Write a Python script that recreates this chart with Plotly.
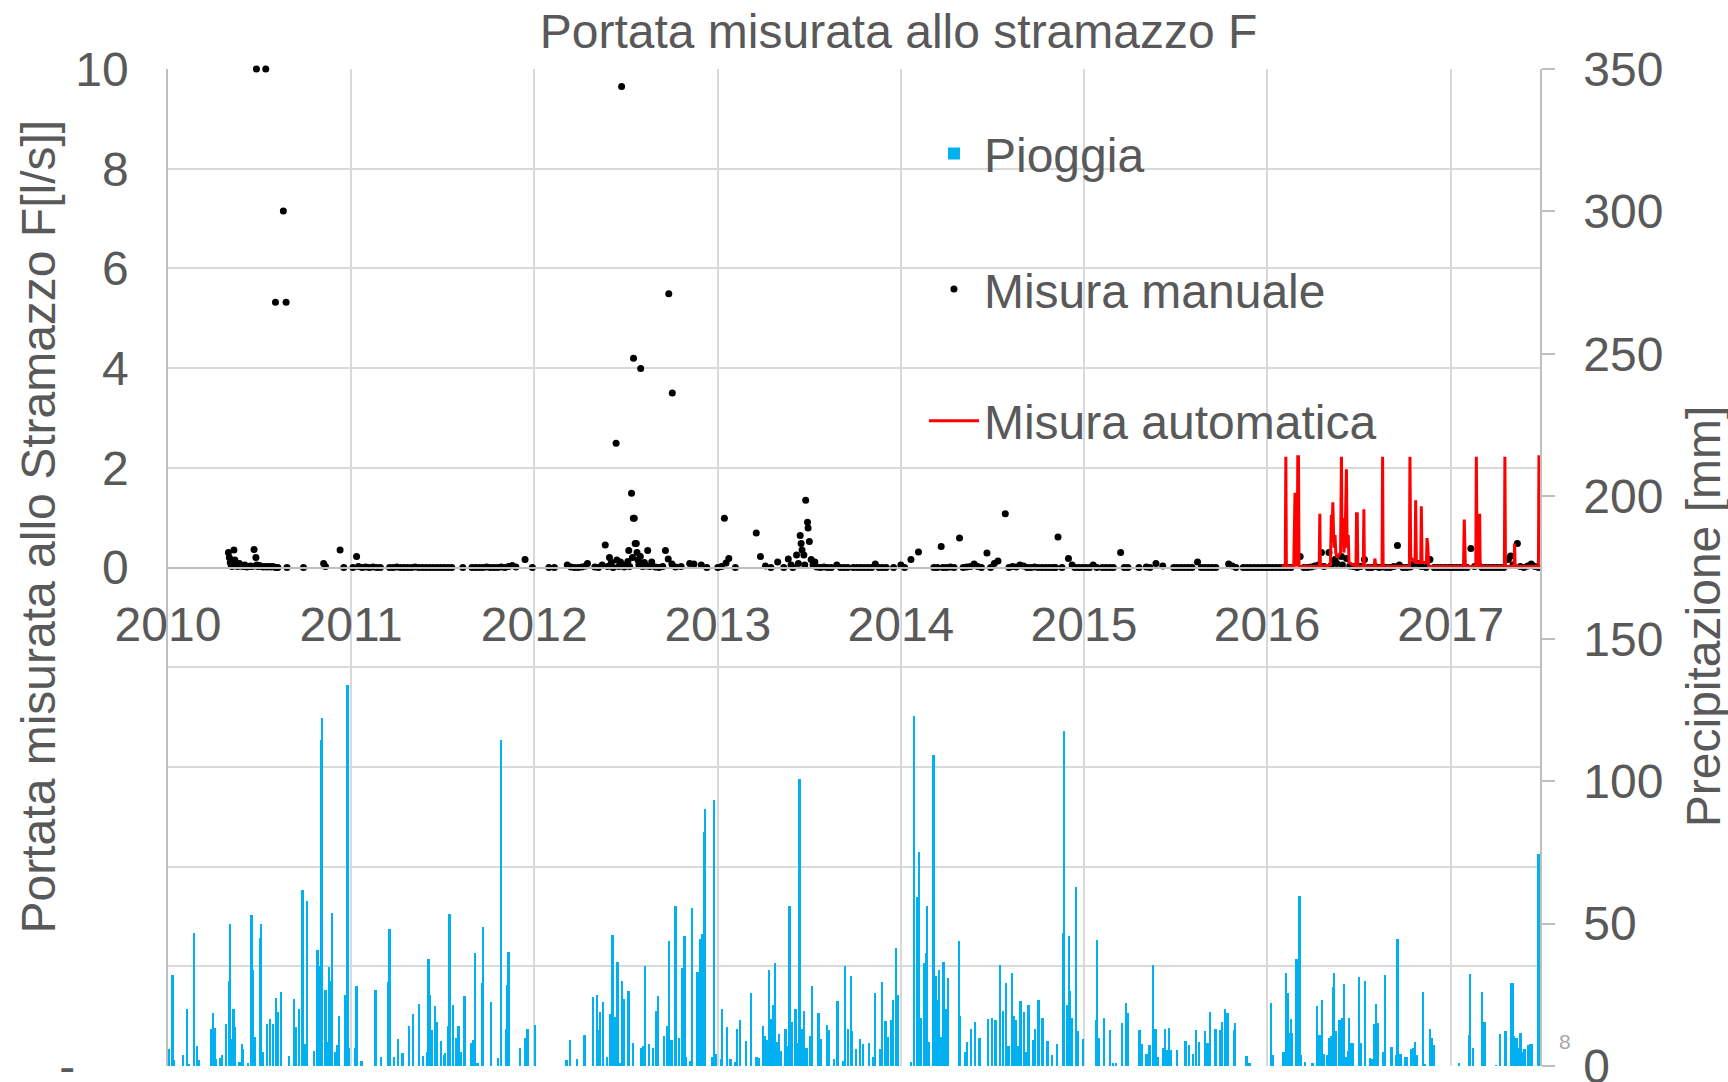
import pandas as pd
import plotly.graph_objects as go

# ---------------- data (dates given as decimal years) -------------
rain_year = [
    2010.006, 2010.025, 2010.031, 2010.082, 2010.102, 2010.115, 2010.142, 2010.159, 2010.167,
    2010.234, 2010.245, 2010.255, 2010.259, 2010.286, 2010.295, 2010.318, 2010.332, 2010.339,
    2010.347, 2010.357, 2010.366, 2010.391, 2010.403, 2010.410, 2010.437, 2010.456, 2010.464,
    2010.472, 2010.502, 2010.508, 2010.516, 2010.541, 2010.558, 2010.575, 2010.589, 2010.602,
    2010.619, 2010.660, 2010.688, 2010.696, 2010.715, 2010.734, 2010.746, 2010.761, 2010.796,
    2010.817, 2010.823, 2010.836, 2010.842, 2010.857, 2010.863, 2010.871, 2010.880, 2010.888,
    2010.897, 2010.913, 2010.926, 2010.934, 2010.970, 2010.980, 2010.988, 2011.020, 2011.030,
    2011.057, 2011.133, 2011.164, 2011.200, 2011.210, 2011.235, 2011.258, 2011.281, 2011.317,
    2011.338, 2011.371, 2011.392, 2011.417, 2011.423, 2011.429, 2011.440, 2011.459, 2011.469,
    2011.490, 2011.507, 2011.513, 2011.530, 2011.538, 2011.555, 2011.576, 2011.586, 2011.601,
    2011.620, 2011.655, 2011.668, 2011.676, 2011.691, 2011.714, 2011.720, 2011.764, 2011.804,
    2011.818, 2011.845, 2011.852, 2011.860, 2011.923, 2011.950, 2011.964, 2012.006, 2012.176,
    2012.194, 2012.232, 2012.274, 2012.320, 2012.341, 2012.347, 2012.359, 2012.374, 2012.395,
    2012.412, 2012.426, 2012.441, 2012.453, 2012.466, 2012.479, 2012.491, 2012.514, 2012.539,
    2012.581, 2012.594, 2012.604, 2012.625, 2012.648, 2012.665, 2012.675, 2012.708, 2012.723,
    2012.736, 2012.748, 2012.769, 2012.790, 2012.805, 2012.819, 2012.828, 2012.848, 2012.861,
    2012.890, 2012.903, 2012.912, 2012.925, 2012.929, 2012.971, 2012.979, 2012.981, 2012.992,
    2013.017, 2013.023, 2013.052, 2013.069, 2013.096, 2013.105, 2013.121, 2013.153, 2013.182,
    2013.211, 2013.222, 2013.247, 2013.257, 2013.266, 2013.280, 2013.293, 2013.303, 2013.312,
    2013.324, 2013.333, 2013.347, 2013.370, 2013.379, 2013.391, 2013.406, 2013.425, 2013.437,
    2013.446, 2013.458, 2013.469, 2013.485, 2013.504, 2013.515, 2013.550, 2013.565, 2013.598,
    2013.609, 2013.634, 2013.653, 2013.682, 2013.695, 2013.713, 2013.728, 2013.734, 2013.753,
    2013.776, 2013.791, 2013.824, 2013.847, 2013.860, 2013.885, 2013.897, 2013.916, 2013.931,
    2013.944, 2013.958, 2013.973, 2013.985, 2014.056, 2014.073, 2014.086, 2014.100, 2014.109,
    2014.128, 2014.136, 2014.144, 2014.155, 2014.178, 2014.180, 2014.190, 2014.199, 2014.207,
    2014.220, 2014.232, 2014.243, 2014.259, 2014.316, 2014.324, 2014.351, 2014.362, 2014.383,
    2014.404, 2014.429, 2014.475, 2014.496, 2014.517, 2014.542, 2014.556, 2014.575, 2014.588,
    2014.607, 2014.619, 2014.630, 2014.640, 2014.653, 2014.672, 2014.684, 2014.697, 2014.720,
    2014.734, 2014.751, 2014.774, 2014.801, 2014.824, 2014.851, 2014.885, 2014.891, 2014.906,
    2014.918, 2014.925, 2014.931, 2014.958, 2014.967, 2014.996, 2015.065, 2015.071, 2015.079,
    2015.111, 2015.140, 2015.157, 2015.176, 2015.209, 2015.230, 2015.238, 2015.303, 2015.314,
    2015.341, 2015.358, 2015.377, 2015.391, 2015.404, 2015.433, 2015.441, 2015.452, 2015.464,
    2015.473, 2015.506, 2015.554, 2015.575, 2015.596, 2015.613, 2015.630, 2015.661, 2015.674,
    2015.688, 2015.718, 2015.743, 2015.755, 2015.772, 2015.784, 2015.818, 2015.824, 2015.887,
    2015.904, 2016.022, 2016.029, 2016.089, 2016.103, 2016.111, 2016.122, 2016.129, 2016.134,
    2016.158, 2016.165, 2016.176, 2016.183, 2016.207, 2016.247, 2016.272, 2016.281, 2016.290,
    2016.299, 2016.310, 2016.325, 2016.339, 2016.347, 2016.358, 2016.365, 2016.377, 2016.390,
    2016.399, 2016.410, 2016.417, 2016.428, 2016.439, 2016.448, 2016.457, 2016.468, 2016.499,
    2016.508, 2016.535, 2016.559, 2016.570, 2016.583, 2016.595, 2016.603, 2016.632, 2016.641,
    2016.677, 2016.702, 2016.710, 2016.721, 2016.726, 2016.753, 2016.762, 2016.786, 2016.795,
    2016.806, 2016.818, 2016.849, 2016.858, 2016.889, 2016.898, 2016.909, 2017.047, 2017.098,
    2017.107, 2017.122, 2017.172, 2017.185, 2017.247, 2017.269, 2017.296, 2017.303, 2017.330,
    2017.338, 2017.345, 2017.359, 2017.372, 2017.381, 2017.390, 2017.403, 2017.423, 2017.436,
    2017.443, 2017.479, 2017.486,
]
rain_mm = [
    6, 32, 2, 4, 20, 0.5, 46.6, 7, 2,
    13, 18.5, 13.5, 2.5, 2.7, 4, 14.6, 30, 49.7,
    9.6, 20, 13.8, 1.4, 7.8, 5.9, 1, 53, 33.6,
    10.3, 44.8, 50, 5, 14.6, 16.5, 14.6, 24, 19,
    26, 3.6, 23.5, 13.8, 20, 61.8, 7.7, 58, 5.3,
    40.6, 35, 114.6, 122, 26.6, 26.6, 8.5, 34.8, 30,
    53.6, 5, 7.3, 17.7, 25, 133.6, 6.4, 6.4, 28,
    1.9, 26.6, 3.3, 29.6, 48, 3.3, 9.5, 4.6, 14.2,
    18.4, 21.9, 3.4, 5, 37.4, 25, 12.6, 21, 15.5,
    8.7, 3.9, 4.7, 14.2, 53.4, 21.4, 10, 14.2, 5,
    24.7, 8, 9, 39.7, 1, 29, 48.7, 22.6, 2.7,
    114.6, 13, 28.6, 40, 6.4, 10, 13, 14.4, 2,
    9, 2.5, 10.9, 24.2, 25, 12.6, 19, 22.6, 3,
    18.4, 46, 17.2, 36.4, 1, 30, 23.5, 26.5, 8,
    6.2, 7, 35.2, 7.6, 6.2, 19.4, 24.7, 10.6, 14.2,
    44, 9, 56, 10, 34.5, 45.8, 3, 1.8, 55.4,
    33, 44.6, 46.2, 82, 90.2, 3, 40.7, 93.4, 4.2,
    2.3, 20, 13.6, 2.3, 1.5, 13, 16, 8.7, 25.5,
    3, 2.7, 14.2, 10.6, 9.1, 33.6, 16.4, 21.4, 36,
    8.4, 11.1, 5.2, 13, 7, 56, 15.6, 20, 8,
    100.6, 13, 19.2, 6.2, 10.6, 28, 18.7, 9.6, 14.4,
    12.5, 2.6, 22.7, 1.8, 35.2, 12.9, 31.7, 12.3, 6,
    9.4, 7.6, 8, 3.3, 25.8, 6, 29.4, 15.7, 10.3,
    16, 23, 41.6, 25, 1.4, 123, 59.5, 75.2, 17,
    36.2, 39.8, 56, 8.5, 109.3, 60.5, 31.7, 23.2, 33.7,
    10.3, 36.5, 20, 30.8, 43.9, 17.6, 5, 8.4, 12.9,
    15.6, 10, 16.5, 17, 16, 35.5, 19.2, 29.3, 7,
    32.5, 17.6, 16.2, 7, 22.7, 19, 4.8, 21.4, 9.1,
    12.9, 23.2, 16.9, 8.8, 4, 7.8, 46.6, 117.6, 21.4,
    45.8, 26.5, 17, 62.8, 12.3, 9.6, 16, 44.4, 10,
    16.7, 12.6, 1.2, 1, 15.2, 22, 18.6, 12.6, 7.7,
    4.2, 7.4, 35.5, 12.9, 3.3, 6.2, 12.9, 5.6, 13.5,
    5.6, 5.6, 8.7, 7.3, 4.2, 12.5, 8.3, 12.3, 8.2,
    18.9, 12.9, 12.6, 15.6, 19.9, 18.6, 12.6, 15.2, 3.5,
    1, 22, 3.9, 4.8, 32.8, 25.8, 11.5, 16.6, 11.7,
    37.5, 37.5, 59.6, 3.9, 1.5, 1.2, 21, 10.9, 10.9,
    23.2, 4.1, 3.9, 9.7, 10.5, 27.9, 32.6, 12.3, 16.2,
    16.2, 17, 28.7, 3, 5.3, 16.9, 8, 8, 31.4,
    8, 30, 2.7, 2.5, 14.9, 21.9, 15, 5, 31.8,
    6.8, 3.9, 44.5, 3.9, 4.1, 3.3, 3, 6, 6.4,
    8.5, 3.9, 25.9, 0.4, 12.9, 9.7, 7.4, 1, 10.9,
    32.4, 6.4, 25.9, 15.5, 0.2, 11.2, 12.2, 12.2, 29,
    29, 10.5, 9.7, 6.2, 11.7, 5, 6.1, 7.4, 7.6,
    7.6, 74.5, 58.6,
]

manual_year = [
    2010.330, 2010.335, 2010.340, 2010.345, 2010.350, 2010.360, 2010.365, 2010.370, 2010.380,
    2010.390, 2010.400, 2010.410, 2010.420, 2010.430, 2010.440, 2010.450, 2010.460, 2010.470,
    2010.480, 2010.483, 2010.485, 2010.490, 2010.500, 2010.510, 2010.520, 2010.530, 2010.534,
    2010.540, 2010.550, 2010.560, 2010.570, 2010.580, 2010.587, 2010.590, 2010.600, 2010.630,
    2010.645, 2010.650, 2010.740, 2010.850, 2010.860, 2010.940, 2010.960, 2011.010, 2011.030,
    2011.040, 2011.060, 2011.080, 2011.100, 2011.120, 2011.140, 2011.160, 2011.210, 2011.230,
    2011.250, 2011.270, 2011.290, 2011.310, 2011.330, 2011.350, 2011.370, 2011.390, 2011.410,
    2011.430, 2011.450, 2011.470, 2011.490, 2011.510, 2011.530, 2011.550, 2011.610, 2011.660,
    2011.680, 2011.700, 2011.720, 2011.740, 2011.760, 2011.780, 2011.800, 2011.820, 2011.840,
    2011.860, 2011.880, 2011.900, 2011.950, 2011.990, 2012.080, 2012.110, 2012.180, 2012.200,
    2012.220, 2012.240, 2012.260, 2012.280, 2012.290, 2012.330, 2012.350, 2012.370, 2012.387,
    2012.400, 2012.410, 2012.420, 2012.430, 2012.446, 2012.450, 2012.460, 2012.470, 2012.476,
    2012.480, 2012.490, 2012.500, 2012.510, 2012.515, 2012.520, 2012.530, 2012.535, 2012.540,
    2012.541, 2012.545, 2012.550, 2012.556, 2012.560, 2012.565, 2012.570, 2012.578, 2012.580,
    2012.585, 2012.590, 2012.600, 2012.610, 2012.618, 2012.630, 2012.640, 2012.660, 2012.680,
    2012.700, 2012.715, 2012.730, 2012.733, 2012.750, 2012.752, 2012.770, 2012.800, 2012.847,
    2012.870, 2012.910, 2012.940, 2013.000, 2013.020, 2013.036, 2013.045, 2013.060, 2013.096,
    2013.210, 2013.233, 2013.260, 2013.290, 2013.327, 2013.360, 2013.385, 2013.400, 2013.410,
    2013.430, 2013.440, 2013.450, 2013.455, 2013.460, 2013.470, 2013.475, 2013.480, 2013.490,
    2013.493, 2013.500, 2013.510, 2013.520, 2013.530, 2013.540, 2013.560, 2013.580, 2013.600,
    2013.620, 2013.650, 2013.670, 2013.690, 2013.710, 2013.740, 2013.760, 2013.780, 2013.800,
    2013.820, 2013.840, 2013.860, 2013.880, 2013.900, 2013.920, 2013.960, 2014.000, 2014.020,
    2014.055, 2014.096, 2014.180, 2014.200, 2014.220, 2014.230, 2014.250, 2014.270, 2014.290,
    2014.320, 2014.340, 2014.360, 2014.380, 2014.400, 2014.420, 2014.440, 2014.470, 2014.490,
    2014.510, 2014.530, 2014.570, 2014.590, 2014.610, 2014.630, 2014.650, 2014.670, 2014.690,
    2014.710, 2014.730, 2014.750, 2014.770, 2014.790, 2014.810, 2014.830, 2014.845, 2014.858,
    2014.880, 2014.915, 2014.935, 2014.950, 2014.970, 2014.990, 2015.010, 2015.030, 2015.050,
    2015.070, 2015.100, 2015.120, 2015.140, 2015.160, 2015.200, 2015.220, 2015.240, 2015.300,
    2015.340, 2015.360, 2015.393, 2015.430, 2015.490, 2015.510, 2015.530, 2015.550, 2015.570,
    2015.590, 2015.620, 2015.640, 2015.660, 2015.680, 2015.700, 2015.720, 2015.790, 2015.810,
    2015.830, 2015.870, 2015.890, 2015.910, 2015.930, 2015.950, 2015.970, 2015.990, 2016.010,
    2016.030, 2016.050, 2016.070, 2016.090, 2016.110, 2016.130, 2016.160, 2016.180, 2016.200,
    2016.220, 2016.240, 2016.260, 2016.280, 2016.296, 2016.310, 2016.337, 2016.350, 2016.370,
    2016.380, 2016.405, 2016.410, 2016.433, 2016.450, 2016.470, 2016.490, 2016.510, 2016.530,
    2016.550, 2016.570, 2016.590, 2016.610, 2016.630, 2016.650, 2016.670, 2016.690, 2016.710,
    2016.720, 2016.740, 2016.760, 2016.780, 2016.800, 2016.820, 2016.840, 2016.866, 2016.887,
    2016.910, 2016.930, 2016.950, 2016.970, 2016.990, 2017.010, 2017.030, 2017.050, 2017.070,
    2017.090, 2017.110, 2017.130, 2017.150, 2017.170, 2017.190, 2017.210, 2017.230, 2017.250,
    2017.270, 2017.290, 2017.315, 2017.327, 2017.340, 2017.364, 2017.380, 2017.400, 2017.420,
    2017.440, 2017.460, 2017.480,
]
manual_ls = [
    0.30, 0.20, 0.10, 0.05, 0.02, 0.35, 0.15, 0.05, 0.02,
    0.08, 0.03, 0.02, 0.05, 0.01, 0.02, 0.03, 0.02, 0.36,
    0.20, 10.0, 0.05, 0.02, 0.04, 0.02, 0.01, 0.02, 10.0,
    0.01, 0.02, 0.01, 0.02, 0.01, 5.32, 0.00, 0.00, 7.15,
    5.32, 0.00, 0.00, 0.08, 0.02, 0.35, 0.00, 0.00, 0.22,
    0.02, 0.00, 0.01, 0.00, 0.01, 0.00, 0.00, 0.00, 0.00,
    0.01, 0.00, 0.00, 0.00, 0.00, 0.01, 0.00, 0.00, 0.00,
    0.00, 0.00, 0.00, 0.00, 0.00, 0.00, 0.00, 0.00, 0.00,
    0.00, 0.00, 0.00, 0.01, 0.00, 0.00, 0.00, 0.01, 0.00,
    0.02, 0.04, 0.01, 0.16, 0.00, 0.00, 0.00, 0.05, 0.01,
    0.00, 0.00, 0.01, 0.03, 0.08, 0.01, 0.00, 0.05, 0.45,
    0.02, 0.20, 0.10, 0.00, 2.49, 0.15, 0.02, 0.11, 9.65,
    0.04, 0.01, 0.05, 0.12, 0.34, 0.02, 1.49, 0.20, 0.99,
    4.20, 0.99, 0.48, 0.48, 0.30, 0.15, 0.05, 0.22, 3.99,
    0.08, 0.02, 0.10, 0.03, 0.34, 0.02, 0.11, 0.01, 0.00,
    0.02, 0.34, 0.17, 5.49, 0.07, 3.50, 0.01, 0.02, 0.08,
    0.07, 0.05, 0.00, 0.00, 0.02, 0.99, 0.09, 0.18, 0.00,
    0.69, 0.22, 0.03, 0.00, 0.11, 0.00, 0.17, 0.05, 0.00,
    0.25, 0.08, 0.64, 0.48, 0.35, 0.25, 0.05, 1.35, 0.91,
    0.79, 0.52, 0.16, 0.05, 0.11, 0.01, 0.00, 0.01, 0.00,
    0.00, 0.05, 0.00, 0.00, 0.00, 0.00, 0.00, 0.00, 0.00,
    0.00, 0.00, 0.07, 0.00, 0.00, 0.00, 0.00, 0.05, 0.00,
    0.16, 0.31, 0.00, 0.00, 0.42, 0.00, 0.00, 0.01, 0.00,
    0.59, 0.00, 0.01, 0.02, 0.07, 0.02, 0.00, 0.29, 0.00,
    0.08, 0.13, 1.08, 0.00, 0.02, 0.01, 0.05, 0.03, 0.00,
    0.00, 0.01, 0.00, 0.00, 0.00, 0.00, 0.00, 0.00, 0.61,
    0.00, 0.18, 0.05, 0.00, 0.00, 0.00, 0.00, 0.00, 0.05,
    0.00, 0.00, 0.00, 0.00, 0.00, 0.30, 0.00, 0.00, 0.00,
    0.01, 0.00, 0.08, 0.03, 0.00, 0.00, 0.00, 0.00, 0.00,
    0.00, 0.11, 0.00, 0.00, 0.00, 0.00, 0.00, 0.07, 0.03,
    0.00, 0.00, 0.00, 0.00, 0.00, 0.00, 0.00, 0.00, 0.00,
    0.00, 0.00, 0.00, 0.00, 0.00, 0.00, 0.28, 0.22, 0.00,
    0.00, 0.01, 0.03, 0.05, 0.30, 0.02, 0.30, 0.05, 0.16,
    0.08, 0.22, 0.05, 0.18, 0.03, 0.02, 0.00, 0.02, 0.16,
    0.00, 0.00, 0.02, 0.00, 0.01, 0.00, 0.00, 0.02, 0.44,
    0.05, 0.00, 0.00, 0.01, 0.08, 0.08, 0.02, 0.00, 0.16,
    0.00, 0.00, 0.00, 0.00, 0.00, 0.00, 0.00, 0.00, 0.00,
    0.00, 0.38, 0.02, 0.07, 0.00, 0.00, 0.00, 0.00, 0.00,
    0.00, 0.00, 0.16, 0.23, 0.05, 0.48, 0.02, 0.00, 0.03,
    0.07, 0.02, 0.00,
]

auto_year = [
    2016.080, 2016.099, 2016.102, 2016.105, 2016.145, 2016.148, 2016.152, 2016.155, 2016.164,
    2016.167, 2016.171, 2016.174, 2016.284, 2016.287, 2016.290, 2016.345, 2016.350, 2016.353,
    2016.358, 2016.362, 2016.366, 2016.370, 2016.374, 2016.380, 2016.400, 2016.405, 2016.408,
    2016.414, 2016.418, 2016.425, 2016.432, 2016.436, 2016.442, 2016.446, 2016.484, 2016.487,
    2016.491, 2016.494, 2016.524, 2016.527, 2016.530, 2016.584, 2016.587, 2016.592, 2016.626,
    2016.629, 2016.632, 2016.775, 2016.778, 2016.782, 2016.806, 2016.809, 2016.813, 2016.837,
    2016.840, 2016.844, 2016.868, 2016.871, 2016.876, 2016.880, 2017.070, 2017.074, 2017.078,
    2017.080, 2017.137, 2017.140, 2017.144, 2017.155, 2017.158, 2017.161, 2017.293, 2017.296,
    2017.299, 2017.346, 2017.349, 2017.352, 2017.479, 2017.482, 2017.487,
]
auto_ls = [
    0.02, 0.02, 2.22, 0.02, 0.02, 1.50, 1.50, 0.05, 0.05,
    2.22, 2.22, 0.02, 0.02, 1.08, 0.02, 0.05, 1.06, 0.50,
    1.31, 0.69, 0.40, 0.65, 0.30, 0.20, 0.30, 2.22, 0.50,
    0.99, 0.30, 0.60, 1.97, 0.40, 0.65, 0.10, 0.02, 1.08,
    1.08, 0.02, 0.02, 1.17, 0.02, 0.02, 0.18, 0.02, 0.02,
    2.22, 0.02, 0.02, 2.22, 0.20, 0.10, 1.35, 0.10, 0.10,
    1.23, 0.10, 0.10, 0.59, 0.40, 0.02, 0.02, 0.96, 0.20,
    0.02, 0.02, 2.22, 0.02, 0.02, 1.08, 0.02, 0.02, 2.22,
    0.02, 0.02, 0.48, 0.02, 0.02, 2.22, 2.22,
]

left_tickvals = [-10, -8, -6, -4, -2, 0, 2, 4, 6, 8, 10]
left_ticktext = ["-\u00a0\u00a0\u00a0\u00a0", "", "", "", "", "0", "2", "4", "6", "8", "10"]
right_tickvals = [0, 50, 100, 150, 200, 250, 300, 350]


def to_date(v):
    y = int(v)
    start = pd.Timestamp(year=y, month=1, day=1)
    end = pd.Timestamp(year=y + 1, month=1, day=1)
    return start + (end - start) * (v - y)


rain_dates = [to_date(v) for v in rain_year]
manual_dates = [to_date(v) for v in manual_year]
auto_dates = [to_date(v) for v in auto_year]

FONT = "Liberation Sans, Arial, sans-serif"
GREY = "#595959"
DAY_MS = 86400000

fig = go.Figure()
fig.add_trace(go.Bar(
    x=rain_dates, y=rain_mm, name="Pioggia", yaxis="y2",
    marker=dict(color="#00B0F0", line=dict(width=0)),
    width=[4.5 * DAY_MS] * len(rain_dates), legend="legend",
))
fig.add_trace(go.Scatter(
    x=manual_dates, y=manual_ls, name="Misura manuale", mode="markers",
    marker=dict(color="black", size=7), legend="legend2", cliponaxis=False,
))
fig.add_trace(go.Scatter(
    x=auto_dates, y=auto_ls, name="Misura automatica", mode="lines",
    line=dict(color="#FF0000", width=3), legend="legend3",
))

legend_common = dict(
    font=dict(family=FONT, size=48, color=GREY), bgcolor="rgba(0,0,0,0)",
    xanchor="left", yanchor="middle", x=0.551, itemwidth=50,
)

fig.update_layout(
    width=1728, height=1082,
    paper_bgcolor="white", plot_bgcolor="white",
    margin=dict(l=168, r=188, t=69, b=16, autoexpand=False),
    font=dict(family=FONT, color=GREY, size=48),
    title=dict(text="Portata misurata allo stramazzo F", x=0.520, xanchor="center",
               y=0.971, yanchor="middle", font=dict(size=48, color=GREY, family=FONT)),
    showlegend=True,
    legend=dict(**legend_common, y=0.915),
    legend2=dict(**legend_common, y=0.779),
    legend3=dict(**legend_common, y=0.647),
    bargap=0,
    xaxis=dict(
        type="date", range=["2010-01-01", "2017-06-28"],
        tick0="2010-01-01", dtick="M12", tickformat="%Y",
        anchor="free", position=0.5,
        showgrid=True, gridcolor="#D9D9D9", gridwidth=1.5,
        showline=True, linecolor="#BFBFBF", linewidth=1.5,
        ticks="", ticklabelstandoff=15,
        tickfont=dict(size=48, color=GREY, family=FONT),
        zeroline=False,
    ),
    yaxis=dict(
        range=[-10, 10], tickvals=left_tickvals, ticktext=left_ticktext,
        showgrid=True, gridcolor="#D9D9D9", gridwidth=1.5,
        showline=True, linecolor="#BFBFBF", linewidth=1.5,
        zeroline=False, ticks="", ticklabelstandoff=28,
        ticklabeloverflow="allow",
        tickfont=dict(size=48, color=GREY, family=FONT),
    ),
    yaxis2=dict(
        range=[0, 350], tickvals=right_tickvals, overlaying="y", side="right",
        anchor="x", showgrid=False, zeroline=False,
        showline=True, linecolor="#BFBFBF", linewidth=1.5,
        ticks="outside", ticklen=13, tickcolor="#BFBFBF", tickwidth=1.5,
        ticklabelstandoff=19, ticklabeloverflow="allow",
        tickfont=dict(size=48, color=GREY, family=FONT),
    ),
    annotations=[
        dict(text="Portata misurata allo Stramazzo F[l/s]]", textangle=-90,
             xref="paper", yref="paper", x=-0.0944, y=0.5417,
             xanchor="center", yanchor="middle", showarrow=False,
             font=dict(size=48, color=GREY, family=FONT)),
        dict(text="Precipitazione [mm]", textangle=-90,
             xref="paper", yref="paper", x=1.1189, y=0.4503,
             xanchor="center", yanchor="middle", showarrow=False,
             font=dict(size=48, color=GREY, family=FONT)),
        dict(text="8", xref="paper", yref="paper", x=1.0185, y=0.0247,
             xanchor="center", yanchor="middle", showarrow=False,
             font=dict(size=21, color="#A6A6A6", family=FONT)),
    ],
)

fig.write_html(
    "out.html",
    config={"displayModeBar": False},
    post_script="document.body.style.margin='0';document.body.style.overflow='hidden';",
)
